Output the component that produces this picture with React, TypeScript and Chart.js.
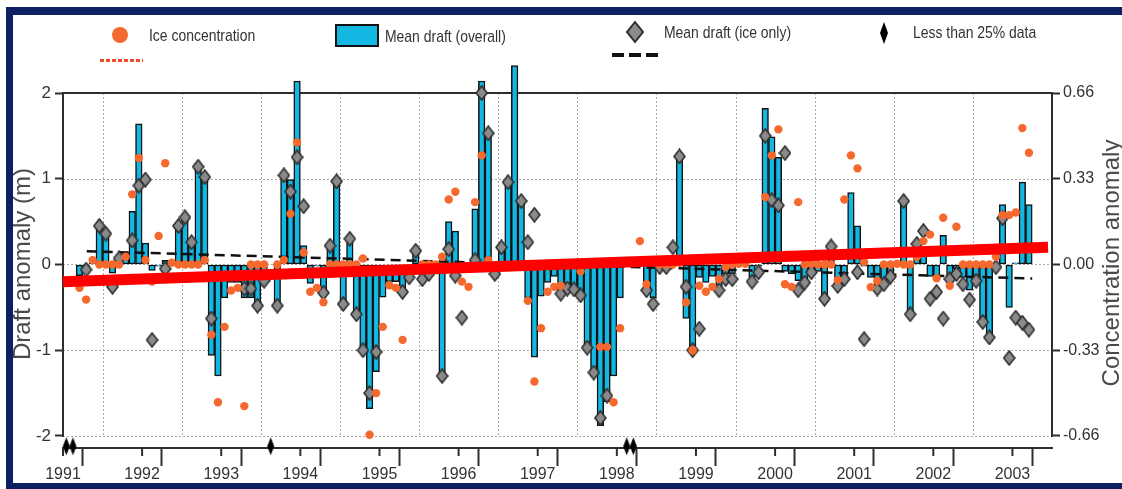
import React, { useEffect, useRef } from 'react';
import { Chart, registerables } from 'chart.js';

Chart.register(...registerables);

// ---------- data ----------
const START_YEAR = 1991.5; // first month shown: July 1991
const END_YEAR = 2004;
const yearLabels = ['1991', '1992', '1993', '1994', '1995', '1996', '1997', '1998', '1999', '2000', '2001', '2002', '2003'];
const draftTicks = [-2, -1, 0, 1, 2];
const concentrationTicks = [-0.66, -0.33, 0, 0.33, 0.66];

// Monthly values, Jul 1991 .. Dec 2003 (150 months). null = no value.
const draftOverall: (number | null)[] = [
  null, null, -0.13, -0.06, 0.02, 0.45,
  0.36, -0.10, 0.04, 0.14, 0.62, 1.64, 0.25, -0.07, -0.02, 0.05, 0.02, 0.48,
  0.55, 0.26, 1.14, 1.03, -1.06, -1.30, -0.39, -0.21, -0.21, -0.39, -0.39, -0.50,
  -0.19, null, -0.48, 1.05, 0.99, 2.14, 0.22, -0.22, -0.02, -0.33, 0.22, 0.99,
  -0.44, 0.30, -0.58, -1.00, -1.68, -1.25, -0.38, -0.20, -0.20, -0.33, -0.14, 0.17,
  0.02, 0.02, 0.02, -1.30, 0.50, 0.39, -0.02, 0.02, 0.65, 2.14, 1.56, 0.02,
  0.20, 0.96, 2.32, 0.74, -0.39, -1.08, -0.37, -0.21, -0.14, -0.30, -0.30, -0.30,
  -0.38, -1.00, -1.30, -1.88, -1.60, -1.30, -0.39, null, null, 0.02, -0.26, -0.39,
  -0.02, -0.02, 0.05, 1.28, -0.63, -1.00, -0.15, -0.21, -0.14, -0.26, -0.11, -0.11,
  0.02, 0.02, -0.15, -0.02, 1.82, 1.49, 1.25, -0.08, -0.11, -0.19, -0.25, -0.11,
  -0.08, -0.40, 0.21, -0.25, -0.17, 0.84, 0.45, -0.02, -0.15, -0.26, -0.19, -0.14,
  0.02, 0.75, -0.58, 0.25, 0.12, -0.14, -0.14, 0.34, -0.15, -0.05, -0.15, -0.30,
  -0.14, -0.69, -0.89, -0.02, 0.70, -0.50, 0.02, 0.96, 0.70, null, null, null,
];

const draftIceOnly: (number | null)[] = [
  null, null, null, -0.06, null, 0.45,
  0.36, -0.26, 0.07, null, 0.28, 0.92, 0.99, -0.88, -2.25, -0.05, null, 0.45,
  0.55, 0.26, 1.14, 1.02, -0.63, null, null, null, null, -0.28, -0.28, -0.48,
  -0.19, null, -0.48, 1.04, 0.85, 1.25, 0.68, null, null, -0.33, 0.22, 0.97,
  -0.46, 0.30, -0.58, -1.00, -1.50, -1.02, null, null, null, -0.32, -0.15, 0.16,
  -0.17, -0.11, null, -1.30, 0.18, -0.13, -0.62, null, 0.05, 2.00, 1.53, -0.11,
  0.20, 0.96, 2.30, 0.74, 0.26, 0.58, null, null, null, -0.34, -0.28, -0.29,
  -0.36, -0.97, -1.26, -1.79, -1.53, null, null, null, null, null, -0.30, -0.46,
  -0.03, -0.03, 0.20, 1.26, -0.26, -1.00, -0.75, null, null, -0.30, -0.17, -0.17,
  null, null, -0.20, -0.09, 1.50, 0.75, 0.69, 1.30, null, -0.30, -0.21, -0.09,
  null, -0.40, 0.21, -0.25, -0.17, null, -0.09, -0.87, null, -0.28, -0.23, -0.14,
  null, 0.74, -0.58, 0.24, 0.39, -0.40, -0.32, -0.63, -0.17, -0.11, -0.23, -0.41,
  -0.19, -0.67, -0.85, -0.03, 0.54, -1.09, -0.62, -0.68, -0.76, null, null, null,
];

const iceConcentration: (number | null)[] = [
  null, null, -0.09, -0.135, 0.017, 0.0,
  0.0, 0.0, 0.0, 0.03, 0.27, 0.41, 0.017, -0.066, 0.11, 0.39, 0.007, 0.0,
  0.0, 0.0, 0.0, 0.017, -0.27, -0.53, -0.24, -0.10, -0.09, -0.545, 0.0, 0.0,
  0.0, null, 0.0, 0.017, 0.195, 0.47, 0.046, -0.105, -0.09, -0.145, 0.0, 0.0,
  0.0, 0.0, 0.0, 0.023, -0.655, -0.495, -0.24, -0.08, -0.09, -0.29, null, null,
  0.0, 0.0, 0.0, 0.03, 0.25, 0.28, -0.066, -0.086, 0.24, 0.42, 0.017, null,
  null, null, null, null, -0.14, -0.45, -0.245, -0.105, -0.086, -0.082, null, null,
  -0.026, null, null, -0.317, -0.317, -0.53, -0.245, null, null, 0.09, -0.076, null,
  0.0, 0.0, 0.0, 0.007, -0.145, -0.33, -0.082, -0.105, -0.086, -0.056, -0.01, 0.0,
  0.003, 0.003, null, null, 0.26, 0.42, 0.52, -0.076, -0.086, 0.24, 0.0, 0.003,
  0.0, 0.0, 0.0, -0.06, 0.25, 0.42, 0.37, 0.01, -0.087, -0.063, 0.0, 0.0,
  0.003, 0.0, 0.0, 0.03, 0.09, 0.115, -0.053, 0.18, -0.082, 0.145, 0.0, 0.0,
  0.0, 0.0, 0.0, 0.03, 0.19, 0.19, 0.2, 0.525, 0.43, null, null, null,
];

// months (index from Jul 1991) with less than 25% data
const lowDataMonths = [0, 1, 31, 85, 86];

// dashed trend of ice-only draft (m)
const iceOnlyTrendYears = [1991.8, 2003.75];
const iceOnlyTrendValues = [0.155, -0.164];
// red overall trend (m)
const overallTrendYears = [1991.5, 2003.95];
const overallTrendValues = [-0.2, 0.2];

// ---------- style ----------
const Y_MIN = -2.14;
const Y_MAX = 2;
const CONC_PER_M = 0.33;
const LOW_MARK_Y = -2.12;
const NAVY = '#0c2062';
const CYAN = '#12b7e2';
const ORANGE = '#f5692e';
const GRAY = '#8a8a8a';
const AXIS = '#2e2e2e';
const TEXT = '#333333';
const FONT = '"Liberation Sans", Arial, sans-serif';

const monthX = (k: number) => START_YEAR + (k + 0.5) / 12;
const toPoints = (arr: (number | null)[]) =>
  arr.flatMap((v, k) => (v === null ? [] : [{ x: monthX(k), y: v }]));

function makeDiamond(w: number, h: number, fill: string, stroke: string | null, lw: number) {
  const c = document.createElement('canvas');
  c.width = w + 2;
  c.height = h + 2;
  const g = c.getContext('2d')!;
  g.beginPath();
  g.moveTo(c.width / 2, 1);
  g.lineTo(c.width - 1, c.height / 2);
  g.lineTo(c.width / 2, c.height - 1);
  g.lineTo(1, c.height / 2);
  g.closePath();
  g.fillStyle = fill;
  g.fill();
  if (stroke) {
    g.lineWidth = lw;
    g.strokeStyle = stroke;
    g.stroke();
  }
  return c;
}

const decor = {
  id: 'decor',
  beforeDraw(chart: any) {
    const ctx = chart.ctx;
    ctx.save();
    ctx.fillStyle = '#ffffff';
    ctx.fillRect(0, 0, chart.width, chart.height);
    ctx.fillStyle = NAVY;
    ctx.fillRect(6, 7, chart.width - 6, 8);
    ctx.fillRect(6, 7, 7, chart.height - 7);
    ctx.fillRect(6, 483, chart.width - 6, 6);
    ctx.restore();
  },
  beforeDatasetsDraw(chart: any) {
    const ctx = chart.ctx;
    const x = chart.scales.x;
    const y = chart.scales.y;
    const area = chart.chartArea;
    const top = y.getPixelForValue(Y_MAX);
    const bot = y.getPixelForValue(-2);
    const line = (x1: number, y1: number, x2: number, y2: number) => {
      ctx.beginPath();
      ctx.moveTo(x1, y1);
      ctx.lineTo(x2, y2);
      ctx.stroke();
    };
    ctx.save();
    ctx.strokeStyle = '#a9a9a9';
    ctx.lineWidth = 1;
    ctx.setLineDash([2, 2]);
    for (let yr = Math.ceil(START_YEAR); yr < END_YEAR; yr++) {
      const px = Math.round(x.getPixelForValue(yr)) + 0.5;
      line(px, top, px, bot);
    }
    for (const v of [1, 0, -1, -2]) {
      const py = Math.round(y.getPixelForValue(v)) + 0.5;
      line(area.left, py, area.right, py);
    }
    ctx.setLineDash([]);
    ctx.strokeStyle = AXIS;
    ctx.lineWidth = 2;
    line(area.left, top, area.right, top);
    line(area.left, top - 1, area.left, bot + 1);
    line(area.right, top - 1, area.right, bot + 1);
    // short ticks under the year labels
    yearLabels.forEach((_, i) => {
      const px = x.getPixelForValue(START_YEAR + i);
      line(px, area.bottom, px, area.bottom + 8);
    });
    ctx.restore();
  },
  afterDraw(chart: any) {
    const ctx = chart.ctx;
    ctx.save();
    // axis titles
    ctx.fillStyle = '#4a4a4a';
    ctx.font = `24px ${FONT}`;
    ctx.textAlign = 'center';
    ctx.textBaseline = 'middle';
    ctx.save();
    ctx.translate(23, 264);
    ctx.rotate(-Math.PI / 2);
    ctx.fillText('Draft anomaly (m)', 0, 0);
    ctx.restore();
    ctx.save();
    ctx.translate(1112, 263);
    ctx.rotate(-Math.PI / 2);
    ctx.fillText('Concentration anomaly', 0, 0);
    ctx.restore();

    // legend texts (horizontally condensed like the reference)
    ctx.textAlign = 'left';
    ctx.font = `17px ${FONT}`;
    ctx.fillStyle = TEXT;
    const condensed = (text: string, x0: number, y0: number) => {
      ctx.save();
      ctx.translate(x0, y0);
      ctx.scale(0.82, 1);
      ctx.fillText(text, 0, 0);
      ctx.restore();
    };
    condensed('Ice concentration', 149, 36);
    condensed('Mean draft (overall)', 385, 37);
    condensed('Mean draft (ice only)', 664, 33);
    condensed('Less than 25% data', 913, 33);

    ctx.fillStyle = ORANGE;
    ctx.beginPath();
    ctx.arc(120, 35, 8, 0, Math.PI * 2);
    ctx.fill();
    ctx.strokeStyle = '#f0482a';
    ctx.lineWidth = 3;
    ctx.setLineDash([4, 2]);
    ctx.beginPath();
    ctx.moveTo(100, 60.5);
    ctx.lineTo(143, 60.5);
    ctx.stroke();
    ctx.setLineDash([]);

    ctx.fillStyle = CYAN;
    ctx.fillRect(336, 25, 42, 21);
    ctx.strokeStyle = '#111';
    ctx.lineWidth = 2;
    ctx.strokeRect(336, 25, 42, 21);

    const diamond = (cx: number, cy: number, hw: number, hh: number) => {
      ctx.beginPath();
      ctx.moveTo(cx, cy - hh);
      ctx.lineTo(cx + hw, cy);
      ctx.lineTo(cx, cy + hh);
      ctx.lineTo(cx - hw, cy);
      ctx.closePath();
    };
    diamond(635, 32, 8, 10);
    ctx.fillStyle = GRAY;
    ctx.fill();
    ctx.strokeStyle = '#2e2e2e';
    ctx.lineWidth = 2;
    ctx.stroke();

    ctx.strokeStyle = '#111';
    ctx.lineWidth = 4;
    ctx.setLineDash([12, 5]);
    ctx.beginPath();
    ctx.moveTo(612, 55);
    ctx.lineTo(658, 55);
    ctx.stroke();
    ctx.setLineDash([]);

    diamond(884, 33, 4, 11);
    ctx.fillStyle = '#000';
    ctx.fill();
    ctx.restore();
  },
};

export default function App() {
  const ref = useRef<HTMLCanvasElement>(null);

  useEffect(() => {
    const canvas = ref.current;
    if (!canvas) return;
    const grayDiamond = makeDiamond(11, 14, GRAY, '#2e2e2e', 1.6);
    const lowMarker = makeDiamond(7, 18, '#000000', null, 0);
    const xTickValues: number[] = [];
    for (let i = 0; START_YEAR + i * 0.5 <= END_YEAR; i++) xTickValues.push(START_YEAR + i * 0.5);

    const chart = new Chart(canvas, {
      type: 'line',
      data: {
        datasets: [
          {
            type: 'line',
            label: 'Trend',
            data: overallTrendYears.map((x, i) => ({ x, y: overallTrendValues[i] })),
            borderColor: '#ff0000',
            borderWidth: 11,
            pointRadius: 0,
            yAxisID: 'y',
            order: 0,
            clip: false as any,
          },
          {
            type: 'line',
            label: 'Ice concentration',
            data: toPoints(iceConcentration),
            yAxisID: 'y2',
            showLine: false,
            pointStyle: 'circle',
            pointRadius: 4.2,
            pointBackgroundColor: ORANGE,
            pointBorderWidth: 0,
            order: 1,
            clip: false as any,
          },
          {
            type: 'line',
            label: 'Less than 25% data',
            data: lowDataMonths.map((k) => ({ x: monthX(k), y: LOW_MARK_Y })),
            yAxisID: 'y',
            showLine: false,
            pointStyle: lowMarker as any,
            pointRadius: 5,
            order: 2,
            clip: false as any,
          },
          {
            type: 'line',
            label: 'Mean draft (ice only)',
            data: toPoints(draftIceOnly),
            yAxisID: 'y',
            showLine: false,
            pointStyle: grayDiamond as any,
            pointRadius: 6,
            order: 3,
            clip: false as any,
          },
          {
            type: 'line',
            label: 'Ice-only trend',
            data: iceOnlyTrendYears.map((x, i) => ({ x, y: iceOnlyTrendValues[i] })),
            yAxisID: 'y',
            borderColor: '#111111',
            borderWidth: 2.5,
            borderDash: [10, 6],
            pointRadius: 0,
            order: 4,
          },
          {
            type: 'bar',
            label: 'Mean draft (overall)',
            data: toPoints(draftOverall),
            yAxisID: 'y',
            backgroundColor: CYAN,
            borderColor: '#111111',
            borderWidth: 1.5,
            borderSkipped: false,
            barPercentage: 1,
            categoryPercentage: 1,
            order: 5,
            clip: false as any,
          } as any,
        ],
      },
      options: {
        responsive: false,
        animation: false,
        events: [],
        layout: { padding: { left: 12, top: 93, right: 0, bottom: 0 } },
        plugins: { legend: { display: false }, tooltip: { enabled: false } },
        scales: {
          x: {
            type: 'linear',
            min: START_YEAR,
            max: END_YEAR,
            offset: false,
            afterBuildTicks: (s: any) => {
              s.ticks = xTickValues.map((v) => ({ value: v }));
            },
            afterFit: (s: any) => {
              s.height = 41;
            },
            grid: {
              display: true,
              drawOnChartArea: false,
              drawTicks: true,
              tickLength: 18,
              tickWidth: 2,
              tickColor: (c: any) =>
                c.tick && Number.isInteger(c.tick.value) ? AXIS : 'rgba(0,0,0,0)',
            },
            border: { display: true, color: AXIS, width: 2 },
            ticks: {
              autoSkip: false,
              maxRotation: 0,
              minRotation: 0,
              padding: 0,
              color: TEXT,
              font: { family: FONT, size: 16, lineHeight: 1.1 },
              callback: (v: any) => {
                const i = Number(v) - START_YEAR;
                return Number.isInteger(i) && yearLabels[i] ? yearLabels[i] : '';
              },
            },
          },
          y: {
            type: 'linear',
            position: 'left',
            min: Y_MIN,
            max: Y_MAX,
            afterBuildTicks: (s: any) => {
              s.ticks = draftTicks.map((v) => ({ value: v }));
            },
            afterFit: (s: any) => {
              s.width = 51;
            },
            grid: { display: true, drawOnChartArea: false, tickLength: 8, tickWidth: 2, tickColor: AXIS },
            border: { display: false },
            ticks: {
              padding: 4,
              color: TEXT,
              font: { family: FONT, size: 17 },
              callback: (v: any) => String(v),
            },
          },
          y2: {
            type: 'linear',
            position: 'right',
            min: Y_MIN * CONC_PER_M,
            max: Y_MAX * CONC_PER_M,
            afterBuildTicks: (s: any) => {
              s.ticks = concentrationTicks.map((v) => ({ value: v }));
            },
            afterFit: (s: any) => {
              s.width = 70;
            },
            grid: { display: true, drawOnChartArea: false, tickLength: 8, tickWidth: 2, tickColor: AXIS },
            border: { display: false },
            ticks: {
              padding: 3,
              color: TEXT,
              font: { family: FONT, size: 16 },
              callback: (v: any) => Number(v).toFixed(2),
            },
          },
        },
      } as any,
      plugins: [decor as any],
    });

    return () => chart.destroy();
  }, []);

  return (
    <div style={{ position: 'absolute', left: 0, top: 0, width: 1122, height: 489, background: '#ffffff' }}>
      <canvas ref={ref} width={1122} height={489} style={{ display: 'block', width: 1122, height: 489 }} />
    </div>
  );
}
